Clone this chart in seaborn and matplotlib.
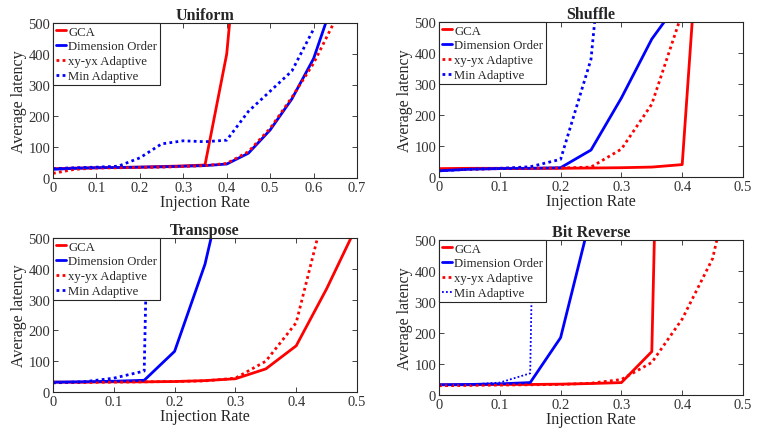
import numpy as np
import pandas as pd
import matplotlib
matplotlib.use("Agg")
import matplotlib.pyplot as plt
import seaborn as sns

# ---------------- data ----------------
series_names = ["GCA", "Dimension Order", "xy-yx Adaptive", "Min Adaptive"]
panel_titles = ["Uniform", "Shuffle", "Transpose", "Bit Reverse"]

# Uniform
uni_gca_x = [0, 0.05, 0.1, 0.15, 0.2, 0.25, 0.3, 0.35, 0.4, 0.42]
uni_gca_y = [30, 32, 33, 34, 35, 37, 39, 42, 400, 700]
uni_dor_x = [0, 0.05, 0.1, 0.15, 0.2, 0.25, 0.3, 0.35, 0.4, 0.45, 0.5, 0.55, 0.6, 0.65]
uni_dor_y = [28, 31, 33, 34, 35, 36, 38, 40, 45, 80, 155, 255, 385, 590]
uni_xy_x = [0, 0.05, 0.1, 0.15, 0.2, 0.25, 0.3, 0.35, 0.4, 0.45, 0.5, 0.55, 0.6, 0.65]
uni_xy_y = [15, 28, 32, 33, 34, 35, 37, 40, 47, 85, 160, 260, 370, 510]
uni_min_x = [0, 0.05, 0.1, 0.15, 0.2, 0.25, 0.3, 0.35, 0.4, 0.45, 0.5, 0.55, 0.6]
uni_min_y = [30, 33, 35, 38, 65, 110, 120, 117, 122, 215, 280, 345, 480]

# Shuffle
shu_gca_x = [0, 0.05, 0.1, 0.15, 0.2, 0.25, 0.3, 0.35, 0.4, 0.42]
shu_gca_y = [27, 28, 28, 28, 28, 29, 30, 32, 40, 600]
shu_dor_x = [0, 0.05, 0.1, 0.15, 0.2, 0.25, 0.3, 0.35, 0.4]
shu_dor_y = [20, 25, 27, 28, 30, 87, 255, 445, 580]
shu_xy_x = [0, 0.05, 0.1, 0.15, 0.2, 0.25, 0.3, 0.35, 0.4]
shu_xy_y = [22, 25, 27, 28, 29, 32, 90, 235, 530]
shu_min_x = [0, 0.05, 0.1, 0.15, 0.2, 0.25, 0.3]
shu_min_y = [20, 25, 28, 33, 57, 380, 1380]

# Transpose
tra_gca_x = [0, 0.05, 0.1, 0.15, 0.2, 0.25, 0.3, 0.35, 0.4, 0.45, 0.5]
tra_gca_y = [32, 32, 33, 33, 34, 37, 43, 75, 150, 335, 541]
tra_dor_x = [0, 0.05, 0.1, 0.15, 0.2, 0.25, 0.3]
tra_dor_y = [32, 33, 35, 38, 132, 415, 840]
tra_xy_x = [0, 0.05, 0.1, 0.15, 0.2, 0.25, 0.3, 0.35, 0.4, 0.45]
tra_xy_y = [30, 31, 32, 33, 34, 36, 45, 100, 225, 618]
tra_min_x = [0, 0.05, 0.1, 0.15, 0.16]
tra_min_y = [30, 33, 45, 68, 1000]

# Bit Reverse
bit_gca_x = [0, 0.05, 0.1, 0.15, 0.2, 0.25, 0.3, 0.35, 0.36]
bit_gca_y = [33, 33, 34, 34, 35, 37, 40, 140, 1000]
bit_dor_x = [0, 0.05, 0.1, 0.15, 0.2, 0.25]
bit_dor_y = [33, 34, 36, 40, 185, 579]
bit_xy_x = [0, 0.05, 0.1, 0.15, 0.2, 0.25, 0.3, 0.35, 0.4, 0.45, 0.5]
bit_xy_y = [30, 31, 32, 33, 34, 38, 50, 105, 245, 440, 870]
bit_min_x = [0, 0.05, 0.1, 0.15, 0.16]
bit_min_y = [32, 34, 40, 70, 1200]

x_limits = [0.7, 0.5, 0.5, 0.5]
y_ticks = [0, 100, 200, 300, 400, 500]

panels = [
    [(uni_gca_x, uni_gca_y), (uni_dor_x, uni_dor_y), (uni_xy_x, uni_xy_y), (uni_min_x, uni_min_y)],
    [(shu_gca_x, shu_gca_y), (shu_dor_x, shu_dor_y), (shu_xy_x, shu_xy_y), (shu_min_x, shu_min_y)],
    [(tra_gca_x, tra_gca_y), (tra_dor_x, tra_dor_y), (tra_xy_x, tra_xy_y), (tra_min_x, tra_min_y)],
    [(bit_gca_x, bit_gca_y), (bit_dor_x, bit_dor_y), (bit_xy_x, bit_xy_y), (bit_min_x, bit_min_y)],
]

# ---------------- style ----------------
sns.set_theme(style="ticks")
plt.rcParams["font.family"] = ["Liberation Serif", "DejaVu Serif"]

colors = ["#ff0000", "#0000ff", "#ff0000", "#0000ff"]
styles = ["-", "-", (0, (1, 1.2)), (0, (1, 1.2))]
widths = [2.0, 2.0, 2.0, 2.0]

W, H = 777, 435
fig = plt.figure(figsize=(W / 100, H / 100), dpi=100)
boxes = [
    (53, 24, 304, 155),
    (439, 23, 304, 155),
    (53, 239, 304, 154),
    (439, 241, 304, 155),
]

for p, (bx, by, bw, bh) in enumerate(boxes):
    ax = fig.add_axes([bx / W, 1 - (by + bh) / H, bw / W, bh / H])
    for s, (xs, ys) in enumerate(panels[p]):
        df = pd.DataFrame({"Injection Rate": xs, "Average latency": ys})
        lw = widths[s]
        if p == 3 and s == 3:
            lw = 1.3
        sns.lineplot(data=df, x="Injection Rate", y="Average latency", ax=ax,
                     color=colors[s], linestyle=styles[s], linewidth=lw,
                     label=series_names[s], sort=False, estimator=None)
    ax.set_xlim(0, x_limits[p])
    ax.set_ylim(0, 500)
    ax.set_yticks(y_ticks)
    xt = np.round(np.arange(0, x_limits[p] + 0.001, 0.1), 1)
    ax.set_xticks(xt)
    ax.set_xticklabels([("%g" % v) for v in xt])
    ax.tick_params(direction="in", top=True, right=True, labelsize=10.5,
                   length=3.5, width=0.6, colors="#262626", labelcolor="#333333", pad=2)
    for sp in ax.spines.values():
        sp.set_linewidth(0.8)
        sp.set_color("#262626")
        sp.set_visible(True)
    ax.set_xlabel("Injection Rate", fontsize=11.5, labelpad=0, color="#262626")
    ax.set_ylabel("Average latency", fontsize=11.5, labelpad=1, color="#262626")
    ax.set_title(panel_titles[p], fontsize=11.5, fontweight="bold", pad=3)
    leg = ax.legend(loc="upper left", fontsize=9.2, frameon=True, fancybox=False,
                    handlelength=0.85, handletextpad=0.15, borderpad=0.2,
                    labelspacing=0.22, borderaxespad=0, framealpha=1)
    leg.get_frame().set_edgecolor("#262626")
    leg.get_frame().set_linewidth(0.8)

fig.savefig("out.png", dpi=100)
